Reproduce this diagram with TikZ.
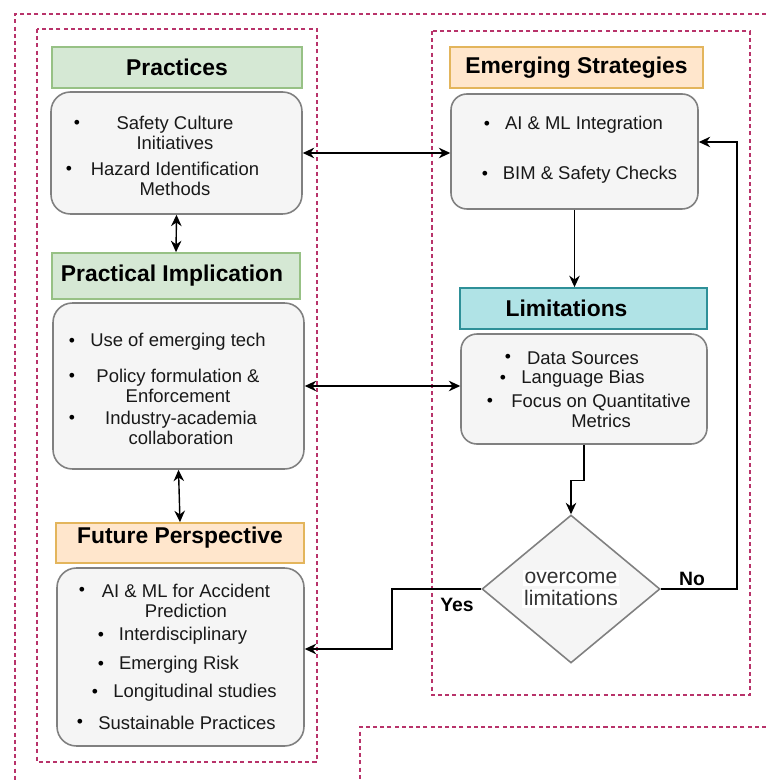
\documentclass[tikz,border=0pt]{standalone}
\usepackage{fontspec}
\setmainfont{Liberation Sans}
\usetikzlibrary{arrows.meta,shapes.geometric,calc}
\definecolor{frame}{HTML}{B8336A}
\definecolor{grnfill}{HTML}{D5E8D4}
\definecolor{grnline}{HTML}{97C185}
\definecolor{orgfill}{HTML}{FFE6CC}
\definecolor{orgline}{HTML}{E3B55C}
\definecolor{cyfill}{HTML}{B0E3E6}
\definecolor{cyline}{HTML}{2E9098}
\definecolor{bodyfill}{HTML}{F5F5F5}
\definecolor{bodyline}{HTML}{808080}
\newcommand{\wbg}[1]{{\setlength{\fboxsep}{1pt}\colorbox{white}{#1}}}
\begin{document}
\begin{tikzpicture}[x=0.02cm,y=-0.02cm,>={Stealth[length=6.5pt,width=6pt]},line width=0.8pt]
\tikzstyle{hdr}=[draw,line width=1pt,font=\fontsize{13}{15}\selectfont\bfseries,inner sep=0pt]
\tikzstyle{body}=[draw=bodyline,fill=bodyfill,rounded corners=11pt,line width=0.9pt]
\tikzstyle{itm}=[font=\fontsize{10.5}{11}\selectfont,align=center,text=black!90,inner sep=0pt]
\tikzstyle{bul}=[font=\fontsize{10}{11}\selectfont,inner sep=0pt]
\tikzstyle{lbl}=[font=\fontsize{11}{13}\selectfont\bfseries,inner sep=0pt]
\tikzstyle{frm}=[draw=frame,line width=1pt,dash pattern=on 2.3pt off 1.8pt]
\useasboundingbox (0,0) rectangle (766,780);
% dashed frames
\draw[frm] (766,14) -- (15,14) -- (15,780);
\draw[frm] (37,29) rectangle (317,762);
\draw[frm] (432,31) rectangle (750,695);
\draw[frm] (766,727) -- (360,727) -- (360,780);
% left column
\node[hdr,fill=grnfill,draw=grnline,minimum width=5cm,minimum height=0.82cm] (prh) at (177,67.5) {Practices};
\node[body,minimum width=5.02cm,minimum height=2.44cm] (prb) at (176.5,153) {};
\node[hdr,fill=grnfill,draw=grnline,minimum width=4.96cm,minimum height=0.92cm] (pih) at (176,276) {\hspace*{-0.16cm}Practical Implication};
\node[body,minimum width=5.02cm,minimum height=3.32cm] (pib) at (178.5,386) {};
\node[hdr,fill=orgfill,draw=orgline,minimum width=4.96cm,minimum height=0.8cm,text height=0pt,text depth=0pt] (fph) at (180,543) {Future Perspective};
\node[body,minimum width=4.94cm,minimum height=3.56cm] (fpb) at (180.5,657) {};
% right column
\node[hdr,fill=orgfill,draw=orgline,minimum width=5.06cm,minimum height=0.82cm] (esh) at (576.5,67.5) {Emerging Strategies};
\node[body,rounded corners=9pt,minimum width=4.94cm,minimum height=2.3cm] (esb) at (574.5,151.5) {};
\node[hdr,fill=cyfill,draw=cyline,minimum width=4.94cm,minimum height=0.82cm] (lmh) at (583.5,308.5) {\hspace*{-0.68cm}Limitations};
\node[body,rounded corners=9pt,minimum width=4.92cm,minimum height=2.2cm] (lmb) at (584,389) {};
\node[diamond,draw=bodyline,fill=bodyfill,line width=0.9pt,aspect=1.2,inner sep=0pt,minimum width=3.56cm,minimum height=2.96cm,font=\fontsize{12}{12.5}\selectfont,align=center,text=black!80] (dec) at (571,589) {\wbg{overcome}\\\wbg{limitations}};
% bullet items
\foreach \n/\bx/\by/\tx/\ty/\t in {pr1/77/124/175/133/{Safety Culture\\Initiatives},pr2/69/170/175/179/{Hazard Identification\\Methods},
  pi1/72/342/178/342/{Use of emerging tech},pi2/72/377/178/386/{Policy formulation \&\\Enforcement},pi3/72/419/181/428/{Industry-academia\\collaboration},
  fp1/82/591/186/601/{AI \& ML for Accident\\Prediction},fp2/101/636/183/636/{Interdisciplinary},fp3/101/665/179/665/{Emerging Risk},fp4/95/693/195/693/{Longitudinal studies},fp5/80/723/187/723/{Sustainable Practices},
  es1/487/125/584/125/{AI \& ML Integration},es2/485/175/590/175/{BIM \& Safety Checks},
  lm1/508/358/583/358/{Data Sources},lm2/503/379/583/379/{Language Bias},lm3/490/402/601/411/{Focus on Quantitative\\Metrics}}
{\node[bul] (\n-b) at (\bx,\by) {\textbullet}; \node[itm] (\n) at (\tx,\ty) {\t};}
% connectors
\draw[<->] (prb.south) -- (pih.north);
\draw[<->] (pib.south) -- (fph.north);
\draw[<->] (prb.east) -- (prb.east -| esb.west);
\draw[<->] (pib.east) -- (pib.east -| lmb.west);
\draw[->] (esb.south) -- (esb.south |- lmh.north);
\draw[->] (lmb.south) -- ++(0,36) -| (dec.north);
\coordinate (noc) at (737,142);
\draw[->] (dec.east) -| (noc) -- (noc -| esb.east);
\coordinate (yesc) at (392,649);
\draw[->] (dec.west) -| (yesc) -- (yesc -| fpb.east);
\node[lbl] (yes) at (457,605) {Yes};
\node[lbl] (no) at (692,579) {No};
\end{tikzpicture}
\end{document}
